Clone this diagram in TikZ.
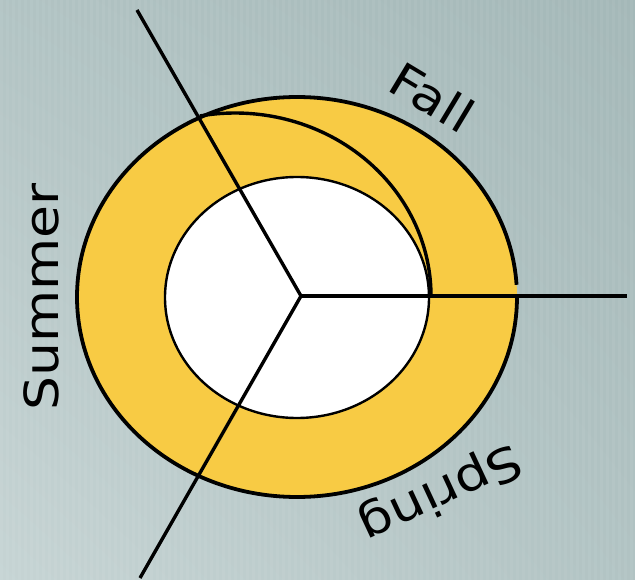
\documentclass[tikz,border=0pt]{standalone}
\usepackage{fontspec}
\setmainfont{DejaVu Sans}
\usetikzlibrary{shadings}
\definecolor{ringyellow}{RGB}{248,203,68}
\definecolor{bglight}{RGB}{198,212,212}
\definecolor{bgdark}{RGB}{164,184,184}
\begin{document}
\begin{tikzpicture}[x=1pt, y=-1pt, season/.style={font=\fontsize{47}{50}\selectfont, xscale=1.14, inner sep=0pt}, ray/.style={line width=3.4pt}]
	\useasboundingbox (0,0) rectangle (635,580);
	\shade[lower left=bglight, upper right=bgdark, lower right=bgdark!60!bglight, upper left=bgdark!60!bglight] (0,0) rectangle (635,580);
	\foreach \x in {0,6,...,630} {
		\fill[white, opacity=0.05] (\x,0) rectangle ++(2.5,580);
	}
	% ring
	\fill[ringyellow] (297,297) ellipse [x radius=220, y radius=200];
	\draw[line width=3.8pt] (517,297) arc [start angle=0, end angle=356.5, x radius=220, y radius=200];
	\filldraw[fill=white, line width=2.4pt] (297,297.5) ellipse [x radius=132, y radius=120.5];
	\draw[line width=3.4pt] (431,296) arc [start angle=0, end angle=-100.3, x radius=196, y radius=183];
	% rays
	\coordinate (hub) at (301,296);
	\coordinate (fallend) at (627,296);
	\coordinate (summerend) at (137,10);
	\coordinate (springend) at (140,578);
	\draw[ray] (hub) -- (fallend);
	\draw[ray] (hub) -- (summerend);
	\draw[ray] (hub) -- (springend);
	% labels
	\node[rotate=-31, season] (fall) at (432,97) {Fall};
	\node[rotate=90, season] (summer) at (41,297) {Summer};
	\node[rotate=205, season] (spring) at (440,492) {Spring};
\end{tikzpicture}
\end{document}
